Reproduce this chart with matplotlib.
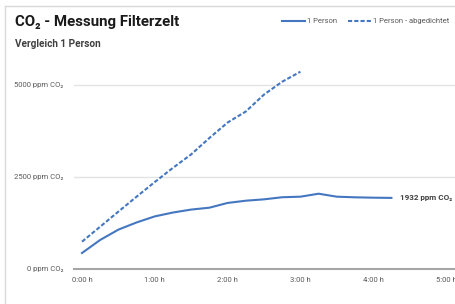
import matplotlib
import matplotlib.pyplot as plt
from matplotlib.lines import Line2D

matplotlib.use("Agg")

# measurement times in hours (15 minute steps)
hours_1p = [0, 0.25, 0.5, 0.75, 1.0, 1.25, 1.5, 1.75, 2.0, 2.25, 2.5, 2.75,
            3.0, 3.25, 3.5, 3.75, 4.0, 4.25]
ppm_1p = [435, 790, 1070, 1265, 1430, 1535, 1615, 1666, 1795, 1856, 1893, 1950,
          1965, 2046, 1965, 1948, 1938, 1932]

hours_sealed = [0, 0.25, 0.5, 0.75, 1.0, 1.25, 1.5, 1.75, 2.0, 2.25, 2.5, 2.75, 3.0]
ppm_sealed = [742, 1150, 1560, 1965, 2364, 2750, 3115, 3560, 3980, 4280, 4740, 5090, 5361]

y_ticks = [0, 2500, 5000]
x_ticks = [0, 1, 2, 3, 4, 5]

blue = "#4477c0"
grey_text = "#595959"
fonts = ["Roboto", "DejaVu Sans"]

W, H = 456, 304
fig = plt.figure(figsize=(W / 100, H / 100), dpi=100)

# card border (top and left edge visible in crop)
fig.add_artist(Line2D([5 / W, 1], [1 - 6 / H, 1 - 6 / H], color="#d9d9d9", lw=1))
fig.add_artist(Line2D([5 / W, 5 / W], [0, 1 - 6 / H], color="#d9d9d9", lw=1))

left, bottom = 74, 304 - 269
top = 269 - 5500 * 92 / 2500
ax = fig.add_axes([left / W, bottom / H, 1 - left / W, (269 - top) / H])

ax.plot(hours_1p, ppm_1p, color=blue, lw=1.5, label="1 Person")
ax.plot(hours_sealed, ppm_sealed, color=blue, lw=1.5, ls=(0, (2, 1)),
        label="1 Person - abgedichtet")

ax.set_xlim(-8 / 72.8, (W - 82) / 72.8)
ax.set_ylim(0, 5500)
ax.set_yticks(y_ticks)
ax.set_yticklabels([f"{v} ppm CO\u2082" for v in y_ticks], family=fonts,
                   fontsize=5.5, color=grey_text)
ax.set_xticks(x_ticks)
ax.set_xticklabels([f"{h}:00 h" for h in x_ticks], family=fonts,
                   fontsize=5.5, color=grey_text)
ax.tick_params(length=0)
ax.tick_params(axis="y", pad=8)
ax.tick_params(axis="x", pad=6)

for s in ["top", "right", "left"]:
    ax.spines[s].set_visible(False)
ax.spines["bottom"].set_color("#a6a6a6")
ax.spines["bottom"].set_linewidth(1.5)
ax.grid(axis="y", color="#e3e3e3", lw=1)
ax.set_axisbelow(True)

ax.annotate(f"{ppm_1p[-1]} ppm CO\u2082", (hours_1p[-1], ppm_1p[-1]),
            xytext=(6, 0), textcoords="offset points", va="center",
            fontsize=5.8, color="#404040", weight="bold", family=fonts)

fig.text(15 / W, 1 - 22 / H, "CO\u2082 - Messung Filterzelt", fontsize=10.8,
         weight="bold", color="#1a1a1a", va="center", family=fonts)
fig.text(15 / W, 1 - 44 / H, "Vergleich 1 Person", fontsize=7.2,
         weight="bold", color="#404040", va="center", family=fonts)

fig.legend(loc="center right", bbox_to_anchor=(1.0, 1 - 21 / H), ncol=2,
           frameon=False, prop={"family": fonts, "size": 5.5},
           labelcolor=grey_text, handlelength=3, handletextpad=0.2,
           columnspacing=1.5)

fig.savefig("out.png", dpi=100)
